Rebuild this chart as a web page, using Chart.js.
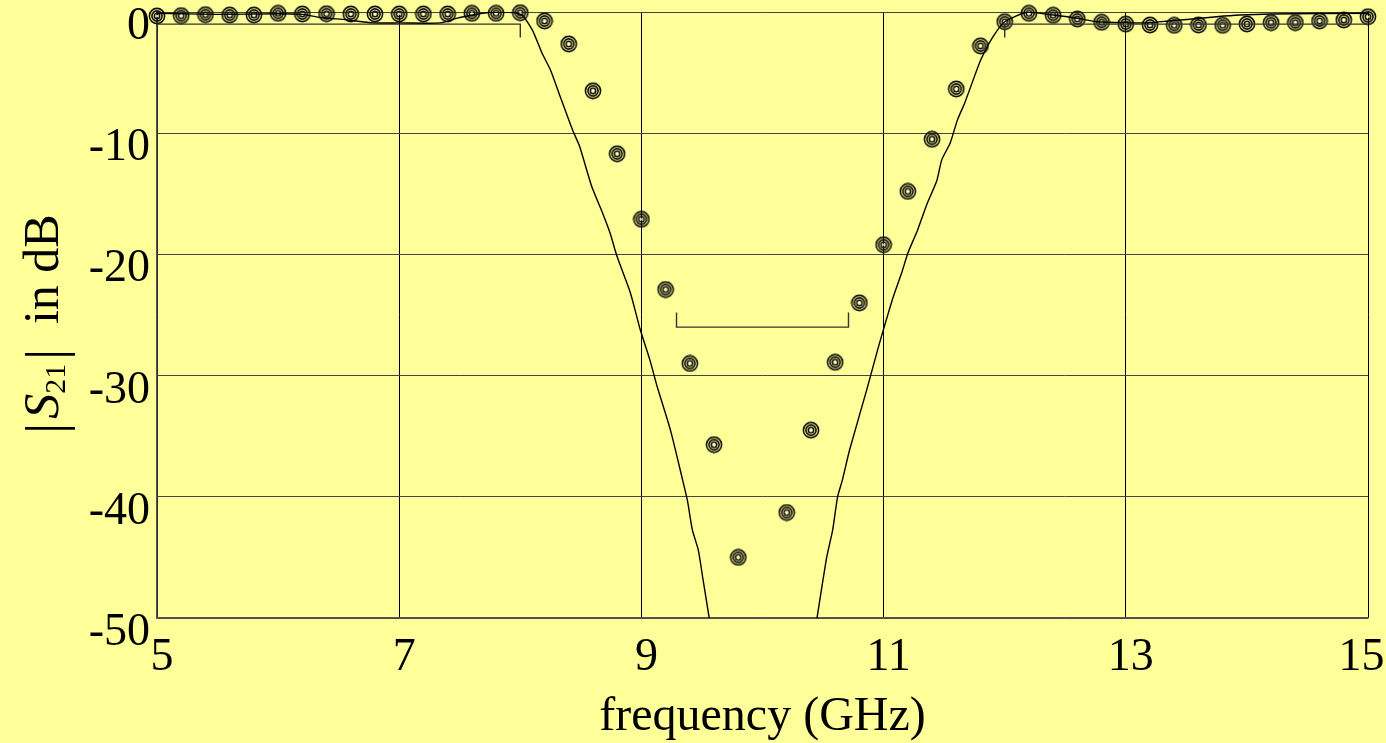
<!DOCTYPE html>
<html>
<head>
<meta charset="utf-8">
<script src="https://cdn.jsdelivr.net/npm/chart.js@4.4.1/dist/chart.umd.min.js"></script>
<style>
  html, body { margin: 0; padding: 0; background: #ffff99; }
  canvas { display: block; }
</style>
</head>
<body>
<canvas id="myChart" width="1386" height="743"></canvas>
<script>
// measured |S21| (rings), every 0.2 GHz
var measFreq = [5.0, 5.2, 5.4, 5.6, 5.8, 6.0, 6.2, 6.4, 6.6, 6.8, 7.0, 7.2, 7.4, 7.6, 7.8, 8.0,
    8.2, 8.4, 8.6, 8.8, 9.0, 9.2, 9.4, 9.6, 9.8, 10.0,
    10.2, 10.4, 10.6, 10.8, 11.0, 11.2, 11.4, 11.6, 11.8,
    12.0, 12.2, 12.4, 12.6, 12.8, 13.0, 13.2, 13.4, 13.6, 13.8, 14.0, 14.2, 14.4, 14.6, 14.8, 15.0];
var measDb = [-0.33, -0.3, -0.22, -0.25, -0.25, -0.11, -0.16, -0.14, -0.16, -0.16, -0.16, -0.16, -0.16, -0.11, -0.11, -0.06,
    -0.74, -2.64, -6.5, -11.7, -17.1, -22.9, -29.0, -35.7, -45.0, null,
    -41.3, -34.5, -28.9, -24.0, -19.2, -14.8, -10.5, -6.35, -2.8,
    -0.8, -0.11, -0.27, -0.58, -0.85, -1.0, -1.07, -1.1, -1.07, -1.1, -0.99, -0.88, -0.88, -0.74, -0.66, -0.39];

// simulated curve (solid line)
var simFreq = [5.0, 5.5, 6.0, 6.2, 6.35, 6.57, 6.78, 7.0, 7.34, 7.48, 7.61, 7.75, 7.95, 8.02,
    8.1, 8.18, 8.25, 8.33, 8.43, 8.49, 8.59, 8.68, 8.74, 8.8, 8.91, 8.99, 9.07, 9.13, 9.24,
    9.34, 9.38, 9.42, 9.47, 9.51, 9.56, 10.0,
    10.45, 10.53, 10.58, 10.62, 10.66, 10.72, 10.86, 10.95, 10.99, 11.08, 11.15, 11.2, 11.28,
    11.36, 11.44, 11.48, 11.55, 11.61, 11.67, 11.74, 11.8, 11.9, 12.0, 12.19, 12.4, 12.6,
    12.76, 12.98, 13.2, 13.37, 13.53, 13.75, 13.94, 14.19, 15.0];
var simDb = [-0.1, -0.2, -0.15, -0.2, -0.45, -0.65, -0.9, -0.9, -0.9, -0.5, -0.25, -0.03, -0.05, -0.3,
    -1.5, -3.4, -4.8, -7.0, -9.7, -11.1, -14.4, -16.6, -18.2, -20.2, -23.2, -26.2, -28.7, -30.9, -34.5,
    -38.6, -40.3, -42.7, -44.4, -46.9, -50, null,
    -50, -45.0, -42.7, -40.0, -38.6, -36.1, -31.2, -27.9, -26.5, -23.5, -21.5, -19.9, -18.0,
    -15.8, -13.9, -12.2, -10.8, -8.9, -7.5, -5.6, -4.0, -2.1, -0.8, 0.0, -0.25, -0.52,
    -0.8, -0.88, -0.88, -0.72, -0.6, -0.39, -0.25, -0.16, -0.1];

// passband mask and stopband bracket
var maskFreq = [5, 8, 8, 10, 12, 12, 15];
var maskDb = [-1, -1, -2.1, null, -2.1, -1, -1];
var bracketFreq = [9.29, 9.29, 10.71, 10.71];
var bracketDb = [-24.8, -26.0, -26.0, -24.8];

var xTicks = [5, 7, 9, 11, 13, 15];
var yTicks = [0, -10, -20, -30, -40, -50];

var serif = "'Liberation Serif', 'Times New Roman', serif";

function toPoints(xs, ys) {
    return xs.map(function (x, i) { return { x: x, y: ys[i] }; });
}

// ring marker
var ring = document.createElement('canvas');
ring.width = 18; ring.height = 18;
(function () {
    var c = ring.getContext('2d');
    c.strokeStyle = '#111';
    c.lineWidth = 1.6;
    [7.6, 5.1, 2.7].forEach(function (r) {
        c.beginPath();
        c.arc(9, 9, r, 0, Math.PI * 2);
        c.stroke();
    });
    c.fillStyle = '#fff';
    c.beginPath();
    c.arc(9, 9, 1, 0, Math.PI * 2);
    c.fill();
})();

var bgPlugin = {
    id: 'bg',
    beforeDraw: function (chart) {
        var ctx = chart.ctx;
        ctx.save();
        ctx.fillStyle = '#ffff99';
        ctx.fillRect(0, 0, chart.width, chart.height);
        ctx.restore();
    }
};

// y title with italic S and subscript 21
var yTitlePlugin = {
    id: 'yTitle',
    afterDraw: function (chart) {
        var ctx = chart.ctx;
        var parts = [
            { t: '|', f: '54px ' + serif, dy: 5, gap: 4 },
            { t: 'S', f: 'italic 50px ' + serif, dy: 0, gap: 0 },
            { t: '21', f: '30px ' + serif, dy: 7, gap: 4 },
            { t: '|', f: '54px ' + serif, dy: 5, gap: 0 },
            { t: '  in dB', f: '50px ' + serif, dy: 0, gap: 0 }
        ];
        ctx.save();
        var total = 0;
        parts.forEach(function (p) {
            ctx.font = p.f;
            p.w = ctx.measureText(p.t).width;
            total += p.w + p.gap;
        });
        ctx.translate(58, 324);
        ctx.rotate(-Math.PI / 2);
        ctx.fillStyle = '#000';
        ctx.textBaseline = 'alphabetic';
        var x = -total / 2;
        parts.forEach(function (p) {
            ctx.font = p.f;
            ctx.fillText(p.t, x, p.dy);
            x += p.w + p.gap;
        });
        ctx.restore();
    }
};

new Chart('myChart', {
    type: 'scatter',
    data: {
        datasets: [
            {
                label: 'simulated',
                data: toPoints(simFreq, simDb),
                showLine: true,
                borderColor: '#000',
                borderWidth: 1.4,
                pointRadius: 0,
                tension: 0.2,
                spanGaps: false
            },
            {
                label: 'mask',
                data: toPoints(maskFreq, maskDb),
                showLine: true,
                borderColor: '#333',
                borderWidth: 1.4,
                pointRadius: 0,
                spanGaps: false
            },
            {
                label: 'bracket',
                data: toPoints(bracketFreq, bracketDb),
                showLine: true,
                borderColor: '#333',
                borderWidth: 1.4,
                pointRadius: 0
            },
            {
                label: 'measured',
                data: toPoints(measFreq, measDb),
                pointStyle: ring,
                pointRadius: 9,
                showLine: false,
                clip: false
            }
        ]
    },
    options: {
        responsive: false,
        animation: false,
        layout: { padding: { left: 0, right: 18, top: 12, bottom: 0 } },
        plugins: {
            legend: { display: false },
            tooltip: { enabled: false }
        },
        scales: {
            x: {
                type: 'linear',
                min: 5,
                max: 15,
                afterBuildTicks: function (s) { s.ticks = xTicks.map(function (v) { return { value: v }; }); },
                afterFit: function (s) { s.height = 125; s.paddingLeft = 0; s.paddingRight = 0; },
                grid: { color: '#000', lineWidth: 1, drawTicks: false },
                border: { color: '#555', width: 1.5 },
                ticks: {
                    autoSkip: false,
                    maxRotation: 0,
                    padding: 12,
                    labelOffset: 5,
                    color: '#000',
                    font: { family: serif, size: 46 },
                    // keep the last label inside the canvas, like the original
                    callback: function (v) { return v === 15 ? '15\u00a0\u00a0' : String(v); }
                },
                title: {
                    display: true,
                    text: 'frequency (GHz)',
                    color: '#000',
                    font: { family: serif, size: 48, lineHeight: 1.1 },
                    padding: { top: 0, bottom: -1 }
                }
            },
            y: {
                type: 'linear',
                min: -50,
                max: 0,
                afterBuildTicks: function (s) { s.ticks = yTicks.map(function (v) { return { value: v }; }); },
                afterFit: function (s) { s.width = 157; s.paddingTop = 0; s.paddingBottom = 0; },
                grid: { color: '#444', lineWidth: 1, drawTicks: false },
                border: { color: '#555', width: 1.5 },
                ticks: {
                    autoSkip: false,
                    padding: 7,
                    labelOffset: 15,
                    color: '#000',
                    font: { family: serif, size: 46 }
                }
            }
        }
    },
    plugins: [bgPlugin, yTitlePlugin]
});
</script>
</body>
</html>
